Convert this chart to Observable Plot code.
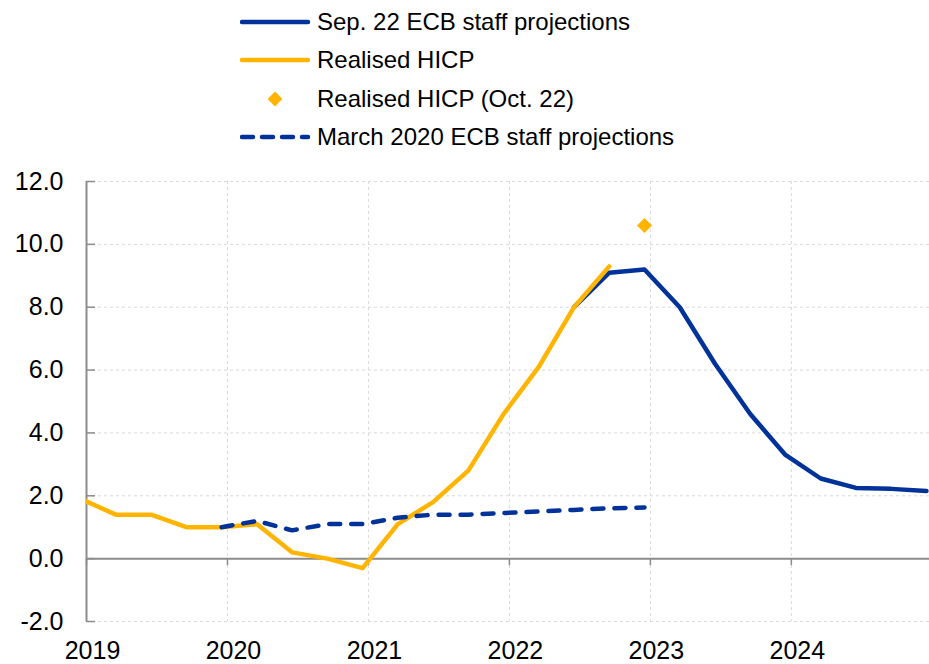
<!DOCTYPE html>
<html><head><meta charset="utf-8">
<script src="https://cdn.jsdelivr.net/npm/d3@7"></script>
<script src="https://cdn.jsdelivr.net/npm/@observablehq/plot@0.6"></script>
<style>
body{margin:0;background:#fff;font-family:"Liberation Sans",Arial,sans-serif;}
#wrap{position:relative;width:929px;height:664px;overflow:hidden;}
.row{position:absolute;left:240px;height:30px;display:flex;align-items:center;font-size:24px;color:#000;white-space:nowrap;}
.row svg{display:block;margin-right:5px;}
</style></head><body>
<div id="wrap"><div id="chart"></div><div id="legend"></div></div>
<script>
// ---- data ----
const realisedQuarters = ["2018Q4","2019Q1","2019Q2","2019Q3","2019Q4","2020Q1","2020Q2","2020Q3","2020Q4","2021Q1","2021Q2","2021Q3","2021Q4","2022Q1","2022Q2","2022Q3"];
const realisedValues   = [1.9, 1.4, 1.4, 1.0, 1.0, 1.1, 0.2, 0.0, -0.3, 1.1, 1.8, 2.8, 4.6, 6.1, 8.0, 9.3];

const sep22Quarters = ["2022Q2","2022Q3","2022Q4","2023Q1","2023Q2","2023Q3","2023Q4","2024Q1","2024Q2","2024Q3","2024Q4"];
const sep22Values   = [8.0, 9.1, 9.2, 8.0, 6.2, 4.6, 3.3, 2.55, 2.25, 2.22, 2.15];

const mar20Quarters = ["2019Q4","2020Q1","2020Q2","2020Q3","2020Q4","2021Q1","2021Q2","2021Q3","2021Q4","2022Q1","2022Q2","2022Q3","2022Q4"];
const mar20Values   = [1.0, 1.2, 0.9, 1.1, 1.1, 1.3, 1.4, 1.4, 1.45, 1.5, 1.55, 1.6, 1.63];

const oct22Quarter = ["2022Q4"];
const oct22Value   = [10.6];

const yearTicks = [2019, 2020, 2021, 2022, 2023, 2024];
const yTicks = [-2, 0, 2, 4, 6, 8, 10, 12];

const legendLabels = ["Sep. 22 ECB staff projections", "Realised HICP", "Realised HICP (Oct. 22)", "March 2020 ECB staff projections"];

// ---- build ----
const BLUE = "#003299", YELLOW = "#FFB400", AXIS = "#8c8c8c", GRID = "#d9d9d9";
const qx = q => +q.slice(0, 4) + (3 * (+q.slice(5)) - 0.5) / 12;
const toRows = (qs, vs) => qs.map((q, i) => ({x: qx(q), y: vs[i]}));
const hicp = toRows(realisedQuarters, realisedValues);
const sep22 = toRows(sep22Quarters, sep22Values);
const mar20 = toRows(mar20Quarters, mar20Values);
const oct22 = toRows(oct22Quarter, oct22Value);

const chart = Plot.plot({
  width: 929, height: 664,
  marginLeft: 86, marginRight: 0, marginTop: 181, marginBottom: 43,
  x: {type: "linear", domain: [2019, 2024.98], label: null},
  y: {domain: [-2, 12], label: null},
  style: {fontFamily: "'Liberation Sans', Arial, sans-serif", fontSize: "25px", color: "#000", background: "#fff", overflow: "visible"},
  marks: [
    Plot.gridY(yTicks, {stroke: GRID, strokeOpacity: 1, strokeDasharray: "3,3", strokeWidth: 1}),
    Plot.gridX(yearTicks, {stroke: GRID, strokeOpacity: 1, strokeDasharray: "3,3", strokeWidth: 1}),
    Plot.axisY(yTicks, {tickSize: 0, tickPadding: 23, tickFormat: d => d.toFixed(1), fontSize: 25, fill: "#000", label: null}),
    Plot.axisX(yearTicks, {tickSize: 0, tickPadding: 20, tickFormat: d => String(d), fontSize: 25, dx: 6, fill: "#000", label: null}),
    Plot.ruleY(yTicks, {x1: 2019, x2: 2019, insetRight: -9, stroke: AXIS, strokeWidth: 1.5}),
    Plot.ruleX(yearTicks, {y1: 0, y2: 0, insetBottom: -7, stroke: AXIS, strokeWidth: 1.5}),
    Plot.ruleX([2019], {stroke: AXIS, strokeWidth: 2}),
    Plot.ruleY([0], {stroke: AXIS, strokeWidth: 2}),
    Plot.line(sep22, {x: "x", y: "y", stroke: BLUE, strokeWidth: 4.5, clip: true}),
    Plot.line(hicp, {x: "x", y: "y", stroke: YELLOW, strokeWidth: 4.5, clip: true}),
    Plot.line(mar20, {x: "x", y: "y", stroke: BLUE, strokeWidth: 4.5, strokeDasharray: "11,11", strokeLinecap: "round"}),
    Plot.dot(oct22, {x: "x", y: "y", symbol: "diamond2", r: 6.8, fill: YELLOW, stroke: "none"})
  ]
});
document.getElementById("chart").append(chart);

// legend
const legend = document.getElementById("legend");
const centers = [22, 60, 99, 137];
const swatches = [
  `<line x1="2" y1="15" x2="68" y2="15" stroke="${BLUE}" stroke-width="4.5" stroke-linecap="round"/>`,
  `<line x1="2" y1="15" x2="68" y2="15" stroke="${YELLOW}" stroke-width="4.5" stroke-linecap="round"/>`,
  `<rect x="29.75" y="9.75" width="10.5" height="10.5" fill="${YELLOW}" transform="rotate(45 35 15)"/>`,
  `<line x1="2" y1="15" x2="68" y2="15" stroke="${BLUE}" stroke-width="4.5" stroke-linecap="round" stroke-dasharray="11,9"/>`
];
legendLabels.forEach((lab, i) => {
  const row = document.createElement("div");
  row.className = "row";
  row.style.top = (centers[i] - 15) + "px";
  row.innerHTML = `<svg width="72" height="30">${swatches[i]}</svg><span>${lab}</span>`;
  legend.append(row);
});
</script>
</body></html>
